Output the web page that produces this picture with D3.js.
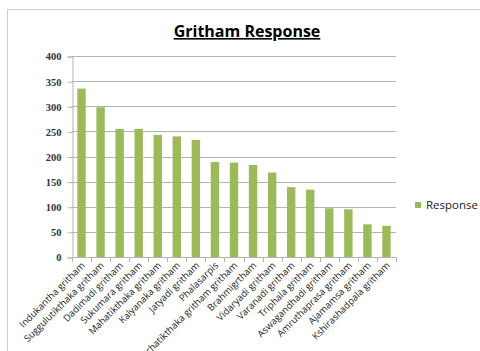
<!DOCTYPE html>
<html>
<head>
<meta charset="utf-8">
<script src="https://cdn.jsdelivr.net/npm/d3@7"></script>
<style>
  html, body { margin: 0; padding: 0; background: #fff; }
  svg { display: block; }
</style>
</head>
<body>
<svg id="chart" width="480" height="351"></svg>
<script>
// Gritham usage counts
const categories = [
  "Indukantha gritham", "Suggulutikthaka gritham", "Dadimadi gritham",
  "Sukumara gritham", "Mahatikthaka gritham", "Kalyanaka gritham",
  "Jatyadi gritham", "Phalasarpis", "Panchatikthaka gritham gritham",
  "Brahmigrtham", "Vidaryadi gritham", "Varanadi gritham",
  "Triphala gritham", "Aswagandhadi gritham", "Amruthaprasa gritham",
  "Ajamamsa gritham", "Kshirashadpala gritham"
];
const responses = [335, 298, 255, 255, 243, 240, 233, 189, 188, 183, 168, 139, 134, 97, 95, 65, 62];
const yTicks = [0, 50, 100, 150, 200, 250, 300, 350, 400];
const seriesName = "Response";
const chartTitle = "Gritham Response";

const svg = d3.select("#chart");
const barColor = "#9bbb59";
const gridColor = "#b3b3b3";

// chart frame
svg.append("path")
  .attr("d", "M7.5,351 V9.5 H480")
  .attr("fill", "none")
  .attr("stroke", "#cfcfcf")
  .attr("stroke-width", 1);

const x = d3.scaleBand()
  .domain(categories)
  .range([72, 396])
  .paddingInner(0.56)
  .paddingOuter(0.28);

const y = d3.scaleLinear()
  .domain([0, 400])
  .range([257, 56]);

// title
svg.append("text")
  .attr("x", 247)
  .attr("y", 37)
  .attr("text-anchor", "middle")
  .attr("font-family", "Open Sans, sans-serif")
  .attr("font-weight", "bold")
  .attr("font-size", 16)
  .attr("text-decoration", "underline")
  .attr("fill", "#000")
  .text(chartTitle);

// gridlines
svg.append("g")
  .selectAll("line")
  .data(yTicks.filter(d => d > 0))
  .join("line")
  .attr("x1", 72).attr("x2", 396)
  .attr("y1", d => Math.round(y(d)) + 0.5)
  .attr("y2", d => Math.round(y(d)) + 0.5)
  .attr("stroke", gridColor)
  .attr("stroke-width", 1);

// y axis
const yAxis = svg.append("g")
  .attr("transform", "translate(72.5,0.5)")
  .call(d3.axisLeft(y).tickValues(yTicks).tickSize(5).tickPadding(6));
yAxis.select(".domain").attr("stroke", gridColor);
yAxis.selectAll(".tick line").attr("stroke", gridColor);
yAxis.selectAll(".tick text")
  .attr("font-family", "Liberation Serif, serif")
  .attr("font-size", 10.5)
  .attr("font-weight", "bold")
  .attr("fill", "#333");

// bars
svg.append("g")
  .selectAll("rect")
  .data(categories.map((c, i) => ({ c, v: responses[i] })))
  .join("rect")
  .attr("x", d => x(d.c))
  .attr("width", x.bandwidth())
  .attr("y", d => y(d.v))
  .attr("height", d => y(0) - y(d.v))
  .attr("fill", barColor);

// x axis with ticks at category boundaries
const xg = svg.append("g");
xg.append("line")
  .attr("x1", 72).attr("x2", 396)
  .attr("y1", Math.round(y(0)) + 0.5).attr("y2", Math.round(y(0)) + 0.5)
  .attr("stroke", gridColor);
const step = x.step();
xg.selectAll("line.tk")
  .data(d3.range(categories.length + 1))
  .join("line")
  .attr("class", "tk")
  .attr("x1", i => Math.round(72 + i * step) + 0.5)
  .attr("x2", i => Math.round(72 + i * step) + 0.5)
  .attr("y1", Math.round(y(0)))
  .attr("y2", Math.round(y(0)) + 5)
  .attr("stroke", gridColor);

xg.selectAll("text")
  .data(categories)
  .join("text")
  .attr("transform", d => `translate(${x(d) + x.bandwidth() / 2 + 4},${y(0) + 9}) rotate(-45)`)
  .attr("text-anchor", "end")
  .attr("font-family", "Open Sans, sans-serif")
  .attr("font-size", 9.5)
  .attr("fill", "#222")
  .text(d => d);

// legend
svg.append("rect")
  .attr("x", 415).attr("y", 202)
  .attr("width", 6).attr("height", 6)
  .attr("fill", barColor);
svg.append("text")
  .attr("x", 426).attr("y", 209)
  .attr("font-family", "Open Sans, sans-serif")
  .attr("font-size", 11.5)
  .attr("fill", "#222")
  .text(seriesName);
</script>
</body>
</html>
